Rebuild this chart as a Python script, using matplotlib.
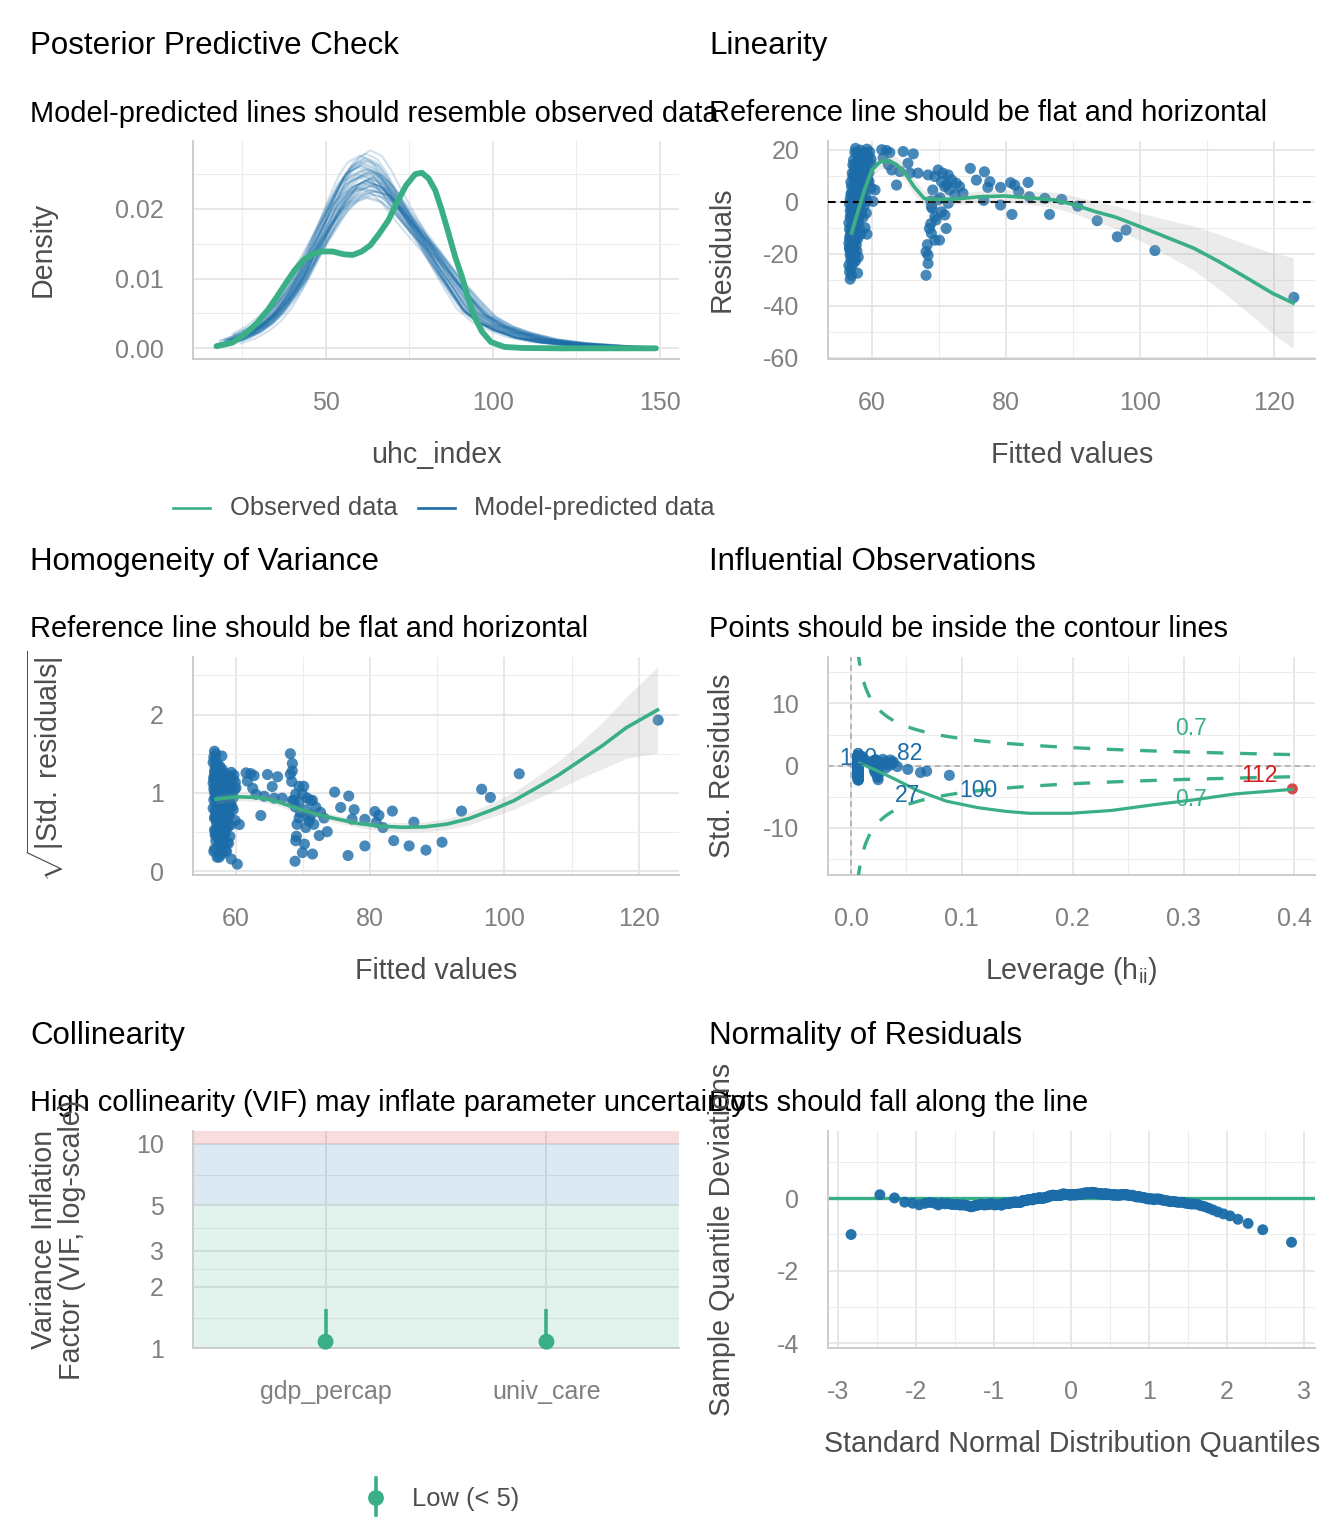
import numpy as np
import matplotlib
matplotlib.use("Agg")
import matplotlib.pyplot as plt
from matplotlib.ticker import FixedLocator, NullFormatter
from statistics import NormalDist

plt.rcParams['font.family'] = ['Liberation Sans', 'DejaVu Sans']
plt.rcParams['mathtext.fontset'] = 'custom'
plt.rcParams['mathtext.rm'] = 'Liberation Sans'
plt.rcParams['mathtext.it'] = 'Liberation Sans:italic'
plt.rcParams['mathtext.bf'] = 'Liberation Sans:bold'
plt.rcParams['mathtext.sf'] = 'Liberation Sans'
plt.rcParams['axes.unicode_minus'] = False
plt.rcParams['lines.scale_dashes'] = False

# ---------------- data ----------------
# posterior predictive check: observed density
obs_x = [17.2, 21.9, 25.9, 29.3, 32.6, 35.3, 37.9, 40.6, 43.3, 46.0, 48.6, 52.0, 55.3, 58.0,
         60.7, 63.3, 66.0, 68.7, 71.3, 74.0, 76.7, 78.7, 80.7, 82.7, 84.7, 86.7, 88.7, 90.7,
         92.7, 94.7, 96.7, 99.4, 103.4, 108.8, 120.0, 148.8]
obs_y = [0.0003, 0.0008, 0.0021, 0.0036, 0.0055, 0.0074, 0.0093, 0.0112, 0.0127, 0.0135,
         0.0139, 0.0139, 0.0135, 0.0134, 0.0139, 0.0148, 0.0165, 0.0184, 0.0210, 0.0234,
         0.0250, 0.0252, 0.0244, 0.0227, 0.0198, 0.0165, 0.0131, 0.0103, 0.0069, 0.0043,
         0.0024, 0.0009, 0.0002, 0.00005, 0.0, 0.0]
# model-predicted density (typical draw) and per-draw shift / height factor
pred_x = [17, 22, 27, 31, 34.7, 38.5, 42.2, 45, 47.4, 50, 52.7, 55, 58, 62, 66, 69, 72.2,
          76, 80, 83.5, 87, 91, 95, 100, 105, 112, 120, 130, 140, 149]
pred_y = [0.0006, 0.0012, 0.0022, 0.0034, 0.0050, 0.0073, 0.0100, 0.0127, 0.0150, 0.0175,
          0.0200, 0.0219, 0.0236, 0.0245, 0.0238, 0.0222, 0.0200, 0.0175, 0.0150, 0.0125,
          0.0100, 0.0074, 0.0050, 0.0034, 0.0024, 0.0014, 0.0008, 0.0004, 0.0002, 0.0001]
pred_peak = 62
pred_shift = [-2.5, 1.0, 0.3, -1.2, 2.2, -0.4, 1.6, -2.0, 0.8, -0.9, 2.8, -1.6, 0.1, 1.3, -2.8,
              0.6, -0.2, 1.9, -1.0, 2.5, -0.6, 0.4, -1.8, 1.1, -0.1, 2.0, -2.3, 0.9, -0.7, 1.5,
              -1.4, 0.2, 2.6, -0.3, 1.2, -2.1, 0.5, -1.1, 1.8, 0.0, -1.5, 2.3, -0.8, 0.7, 1.4]
pred_scale = [1.02, 0.93, 1.10, 0.97, 0.90, 1.05, 0.99, 1.13, 0.95, 1.01, 0.92, 1.07, 0.98, 1.16,
              0.94, 1.03, 0.89, 1.00, 1.08, 0.96, 1.11, 0.91, 1.04, 0.97, 1.14, 0.93, 1.06, 0.99,
              1.02, 0.95, 1.09, 0.88, 1.01, 1.12, 0.96, 1.00, 1.05, 0.94, 1.03, 0.98, 1.07, 0.92,
              1.10, 0.97, 1.04]

# fitted values / residuals: main cluster (univ_care = 0, low gdp)
fit_a = [57.6, 58.3, 59.3,
         57.3, 57.8, 58.1, 58.6, 59.0, 59.5, 59.9, 57.5, 58.9, 58.4, 59.7, 57.9,
         57.1, 57.4, 57.7, 58.0, 58.2, 58.5, 58.8, 59.1, 59.4, 59.8,
         57.2, 57.6, 57.9, 58.3, 58.7, 59.0, 59.6, 60.0, 57.5, 58.6,
         56.9, 57.2, 57.4, 57.7, 57.9, 58.1, 58.3, 58.5, 58.8, 59.0,
         59.2, 59.6, 59.9, 57.0, 57.6, 58.0, 58.4, 58.9, 59.4, 57.3,
         56.8, 57.0, 57.2, 57.4, 57.6, 57.8, 58.0, 58.2, 58.4, 58.6,
         58.8, 59.1, 59.3, 56.9, 57.5, 57.9, 58.3, 58.7, 60.2,
         56.7, 56.8, 56.9, 57.0, 57.1, 57.2, 57.3, 57.4, 57.5, 57.6,
         57.7, 57.8, 57.9, 58.0, 58.1, 58.2, 58.4, 58.5, 58.7, 58.9,
         59.2, 56.8, 57.0, 57.3, 57.6,
         56.6, 56.7, 56.8, 56.9, 57.0, 57.1, 57.2, 57.3, 57.4, 57.5,
         57.6, 57.7, 57.8, 57.9, 58.0, 58.2, 58.4, 59.0, 56.7, 56.9, 57.1, 57.4, 59.3,
         56.6, 56.7, 56.8, 56.9, 57.0, 57.1, 57.2, 57.3, 57.4, 57.5,
         57.6, 57.7, 57.8, 58.0, 56.7, 56.9, 57.2, 57.5,
         56.6, 56.7, 56.8, 56.9, 57.0, 57.2, 57.9]
res_a = [20.5, 19.8, 20.2,
         16.0, 18.5, 17.2, 15.8, 18.8, 17.5, 16.4, 19.0, 16.9, 18.0, 19.1, 15.6,
         11.0, 13.5, 12.2, 14.6, 10.8, 13.0, 11.7, 14.9, 12.5, 13.8,
         14.2, 10.5, 12.9, 15.2, 10.3, 12.0, 11.2, 14.4, 11.9, 14.0,
         7.5, 9.5, 6.0, 8.4, 5.5, 9.9, 7.2, 5.8, 8.9, 6.6,
         9.2, 7.8, 5.3, 5.9, 7.0, 8.0, 9.1, 6.2, 8.6, 10.0,
         1.0, 3.5, 0.4, 4.6, 2.2, 3.9, 1.5, 4.8, 2.9, 0.8,
         4.1, 2.5, 0.3, 2.7, 1.9, 0.6, 3.2, 1.7, 0.1,
         -0.8, -3.5, -6.2, -1.9, -4.8, -7.3, -2.6, -5.5, -0.4, -3.1,
         -6.8, -1.2, -4.2, -7.0, -2.2, -5.0, -0.9, -3.8, -6.0, -1.6,
         -4.4, -5.8, -2.9, -7.6, -1.5,
         -8.2, -10.5, -12.8, -14.9, -9.3, -11.6, -13.9, -8.8, -10.9, -13.2,
         -15.2, -9.8, -12.1, -14.3, -8.0, -10.2, -12.5, -10.0, -14.0, -11.2, -8.5, -14.6, -12.5,
         -16.0, -18.3, -20.6, -22.5, -17.1, -19.4, -21.7, -15.8, -18.0, -20.2,
         -22.8, -16.7, -19.0, -21.3, -17.5, -19.8, -16.4, -21.9,
         -24.5, -27.0, -29.8, -25.6, -28.4, -24.0, -27.5]
# univ_care = 0, moderate gdp
fit_b = [61.5, 62.2, 62.7, 64.7, 66.2, 62.5, 64.2, 65.4, 65.7, 66.9, 63.7, 60.5, 68.4, 61.7, 63.0]
res_b = [20.0, 19.7, 18.9, 19.3, 18.4, 14.2, 11.6, 14.8, 11.0, 11.0, 6.4, 4.5, 10.3, 16.8, 12.2]
# univ_care = 1 cluster
fit_c = [69.9, 70.6, 71.4, 71.9, 72.6, 73.1, 73.6, 70.9, 71.6, 69.1,
         68.8, 68.9, 69.4, 70.4, 70.9, 68.6, 68.9, 71.1, 69.4, 70.1,
         68.1, 68.4, 68.4, 68.1, 69.9, 71.4, 72.4, 70.4, 69.4, 69.0,
         69.6, 68.8, 70.2, 71.2, 68.3]
res_c = [12.2, 11.0, 10.3, 8.4, 7.1, 5.8, 3.2, 5.8, 4.5, 4.5,
         0.2, -1.9, -5.8, -3.9, -5.1, -10.3, -12.2, -10.3, -14.8, -14.8,
         -19.3, -20.6, -23.8, -28.3, 0.7, -0.6, 2.6, 7.7, 9.7, -2.5,
         -7.0, -8.5, 1.5, 6.5, -16.5]
# high fitted values (mixed groups)
fit_d = [74.7, 76.8, 75.6, 77.6, 77.3, 79.2, 76.7, 79.2, 80.7, 81.3, 80.9, 81.9,
         83.3, 83.5, 85.8, 86.5, 88.3, 90.7, 93.6, 96.6, 97.9, 102.2, 122.9]
res_d = [12.8, 11.5, 8.3, 7.7, 5.5, 5.5, 0.5, -1.3, 7.3, 6.4, -4.9, 3.9,
         7.4, 1.9, 1.3, -4.9, 0.9, -1.7, -7.3, -13.5, -10.9, -18.8, -36.8]
univ_d = [0, 0, 0, 0, 0, 1, 1, 1, 1, 1, 1, 1, 1, 1, 1, 1, 1, 1, 1, 1, 1, 1, 0]

# loess smooths
lin_x = [57.0, 58.0, 59.0, 60.0, 61.3, 62.6, 63.8, 65.0, 66.3, 67.8, 68.7, 72.4, 76.1, 79.8,
         83.5, 87.2, 90.3, 93.3, 96.4, 99.4, 102.5, 108.0, 111.7, 116.0, 119.7, 122.8]
lin_y = [-12.0, -3.2, 5.2, 12.2, 15.4, 15.8, 14.1, 10.9, 5.8, 1.3, 0.9, 1.0, 1.9, 2.2,
         1.5, 0.7, -1.3, -3.8, -6.0, -9.0, -12.2, -17.9, -23.0, -29.5, -35.2, -39.0]
lin_band = [3.0, 2.8, 2.6, 2.6, 2.8, 3.0, 3.0, 3.0, 3.0, 3.0, 2.8, 2.2, 2.2, 2.4,
            2.6, 3.0, 3.4, 3.8, 4.4, 5.2, 6.2, 8.5, 10.5, 13.0, 15.5, 17.5]
hom_x = [57.0, 60.1, 63.5, 66.1, 68.8, 71.4, 74.8, 78.1, 81.4, 84.8, 88.1, 91.4, 94.7,
         98.1, 101.4, 104.7, 108.1, 111.4, 114.7, 118.1, 122.8]
hom_y = [0.92, 0.95, 0.94, 0.89, 0.81, 0.74, 0.67, 0.61, 0.575, 0.56, 0.565, 0.60, 0.67,
         0.78, 0.90, 1.06, 1.23, 1.42, 1.61, 1.83, 2.06]
hom_band = [0.06, 0.05, 0.05, 0.05, 0.05, 0.05, 0.05, 0.05, 0.055, 0.06, 0.065, 0.07, 0.08,
            0.09, 0.11, 0.14, 0.18, 0.23, 0.30, 0.39, 0.55]
lev_sm_x = [0.0078, 0.0235, 0.040, 0.060, 0.086, 0.1145, 0.140, 0.161, 0.198, 0.235,
            0.272, 0.309, 0.346, 0.398]
lev_sm_y = [0.4, -0.8, -2.2, -4.0, -5.7, -6.75, -7.35, -7.65, -7.65, -7.2, -6.3, -5.5,
            -4.55, -3.8]
cook_level = 0.7
n_params = 3
label_ids = ["120", "82", "27", "100"]
outlier_id = "112"

# collinearity
vif_terms = ["gdp_percap", "univ_care"]
vif_vals = [1.077, 1.077]
vif_lo = [1.0, 1.0]
vif_hi = [1.55, 1.55]

# ---------------- derived statistics ----------------
fitted = np.array(fit_a + fit_b + fit_c + fit_d)
resid = np.array(res_a + res_b + res_c + res_d)
univ = np.array([0] * (len(fit_a) + len(fit_b)) + [1] * len(fit_c) + univ_d, dtype=float)
n = len(fitted)
X = np.column_stack([np.ones(n), fitted, univ])
lev = np.einsum('ij,jk,ik->i', X, np.linalg.inv(X.T @ X), X)
sigma = np.sqrt(np.sum(resid ** 2) / (n - n_params))
std_res = resid / (sigma * np.sqrt(1 - lev))
stud = std_res * np.sqrt((n - n_params - 1) / (n - n_params - std_res ** 2))
sqrt_abs = np.sqrt(np.abs(std_res))
nd = NormalDist()
theo = np.array([nd.inv_cdf((i - 0.5) / n) for i in range(1, n + 1)])
qq_dev = np.sort(stud) - theo

# ---------------- layout ----------------
W, H = 1344, 1536
GREEN, BLUE, RED = '#3aaf85', '#1b6ca8', '#cd201f'
TICK_C, LAB_C = '#808080', '#4d4d4d'
GRID_MAJ, GRID_MIN, AXIS_C = '#e4e4e4', '#ececec', '#cccccc'
PT = 64

fig = plt.figure(figsize=(W / 100, H / 100), dpi=100)
lay = fig.add_axes([0, 0, 1, 1])
lay.set_xlim(0, W)
lay.set_ylim(H, 0)
lay.axis('off')

P = {
    'ppc': (193, 141, 679, 358.7),
    'lin': (828.4, 140.7, 1315, 358.7),
    'hom': (193, 656.7, 679, 875),
    'inf': (828.4, 656.7, 1315, 875),
    'vif': (193, 1130.7, 679, 1348.3),
    'qq': (828.4, 1130.7, 1315, 1348.3),
}


def add_ax(key):
    l, t, r, b = P[key]
    return fig.add_axes([l / W, 1 - b / H, (r - l) / W, (b - t) / H])


def style(ax, xmaj, xlab, ymaj, ylab, xmin=(), ymin=()):
    ax.set_facecolor('none')
    for s in ('top', 'right'):
        ax.spines[s].set_visible(False)
    for s in ('left', 'bottom'):
        ax.spines[s].set_color(AXIS_C)
        ax.spines[s].set_linewidth(1.4)
    ax.set_xticks(xmaj)
    ax.set_xticklabels(xlab)
    ax.set_yticks(ymaj)
    ax.set_yticklabels(ylab)
    ax.xaxis.set_minor_locator(FixedLocator(list(xmin)))
    ax.yaxis.set_minor_locator(FixedLocator(list(ymin)))
    ax.xaxis.set_minor_formatter(NullFormatter())
    ax.yaxis.set_minor_formatter(NullFormatter())
    ax.tick_params(which='both', length=0)
    ax.tick_params(axis='x', which='major', pad=23, labelsize=18, labelcolor=TICK_C)
    ax.tick_params(axis='y', which='major', pad=21, labelsize=18, labelcolor=TICK_C)
    ax.grid(which='major', color=GRID_MAJ, lw=1.25)
    ax.grid(which='minor', color=GRID_MIN, lw=0.75)
    ax.set_axisbelow(True)


# ---- Posterior predictive check ----
ax1 = add_ax('ppc')
px = np.array(pred_x, dtype=float)
py = np.array(pred_y, dtype=float)
for sh, sc in zip(pred_shift, pred_scale):
    xs = pred_peak + sh + (px - pred_peak) / sc
    ys = py * sc
    m = (xs >= 17.2) & (xs <= 148.8)
    ax1.plot(xs[m], ys[m], color=BLUE, lw=1.45, alpha=0.2, zorder=2)
ax1.plot(obs_x, obs_y, color=GREEN, lw=4.2, solid_capstyle='round',
         solid_joinstyle='round', zorder=3)
style(ax1, [50, 100, 150], ['50', '100', '150'], [0, 0.01, 0.02], ['0.00', '0.01', '0.02'],
      xmin=[25, 75, 125], ymin=[0.005, 0.015, 0.025])
ax1.set_xlim(10.18, 155.7)
ax1.set_ylim(-0.00149, 0.02976)

# ---- Linearity ----
ax2 = add_ax('lin')
ax2.scatter(fitted, resid, s=PT, color=BLUE, alpha=0.8, edgecolors='none', zorder=2)
ax2.axhline(0, color='black', lw=1.5, dashes=(5.5, 3.5), zorder=2.6)
lx, ly, lb = np.array(lin_x), np.array(lin_y), np.array(lin_band)
ax2.fill_between(lx, ly - lb, ly + lb, color='#9e9e9e', alpha=0.2, lw=0, zorder=3)
ax2.plot(lx, ly, color=GREEN, lw=2.6, zorder=4)
style(ax2, [60, 80, 100, 120], ['60', '80', '100', '120'], [20, 0, -20, -40, -60],
      ['20', '0', '-20', '-40', '-60'], xmin=[70, 90, 110], ymin=[10, -10, -30, -50])
ax2.set_xlim(53.55, 126.05)
ax2.set_ylim(-60.4, 23.46)

# ---- Homogeneity ----
ax3 = add_ax('hom')
ax3.scatter(fitted, sqrt_abs, s=PT, color=BLUE, alpha=0.8, edgecolors='none', zorder=2)
hx, hy, hb = np.array(hom_x), np.array(hom_y), np.array(hom_band)
ax3.fill_between(hx, hy - hb, hy + hb, color='#9e9e9e', alpha=0.2, lw=0, zorder=3)
ax3.plot(hx, hy, color=GREEN, lw=2.6, zorder=4)
style(ax3, [60, 80, 100, 120], ['60', '80', '100', '120'], [0, 1, 2], ['0', '1', '2'],
      xmin=[70, 90, 110], ymin=[0.5, 1.5, 2.5])
ax3.set_xlim(53.6, 126.0)
ax3.set_ylim(-0.05, 2.74)

# ---- Influential observations ----
ax4 = add_ax('inf')
ax4.axhline(0, color='#a8a8a8', lw=1.1, dashes=(4, 3), zorder=1.5)
ax4.axvline(0, color='#a8a8a8', lw=1.1, dashes=(4, 3), zorder=1.5)
out = lev == lev.max()
ax4.scatter(lev[~out], std_res[~out], s=PT, color=BLUE, alpha=0.8, edgecolors='none', zorder=2)
ax4.scatter(lev[out], std_res[out], s=PT, color=RED, alpha=0.8, edgecolors='none', zorder=2)
hh = np.linspace(lev.min(), lev.max(), 300)
cb = np.sqrt(cook_level * n_params * (1 - hh) / hh)
ax4.plot(hh, cb, color=GREEN, lw=2.4, dashes=(12, 12), zorder=3)
ax4.plot(hh, -cb, color=GREEN, lw=2.4, dashes=(12, 12), zorder=3)
ax4.plot(lev_sm_x, lev_sm_y, color=GREEN, lw=2.3, zorder=4)
lab_pos = [(0.0065, 1.2), (0.053, 2.0), (0.0514, -4.8), (0.1145, -4.0)]
for t, (xx, yy) in zip(label_ids, lab_pos):
    ax4.text(xx, yy, t, color=BLUE, fontsize=16.5, ha='center', va='center', zorder=5)
ax4.text(0.3685, -1.65, outlier_id, color=RED, fontsize=16.5, ha='center', va='center', zorder=5)
ax4.text(0.307, 6.0, f"{cook_level:.1f}", color=GREEN, fontsize=16.5, ha='center', va='center')
ax4.text(0.307, -5.5, f"{cook_level:.1f}", color=GREEN, fontsize=16.5, ha='center', va='center')
style(ax4, [0, 0.1, 0.2, 0.3, 0.4], ['0.0', '0.1', '0.2', '0.3', '0.4'], [-10, 0, 10],
      ['-10', '0', '10'], xmin=[0.05, 0.15, 0.25, 0.35], ymin=[-15, -5, 5, 15])
ax4.set_xlim(-0.0204, 0.4186)
ax4.set_ylim(-17.57, 17.52)

# ---- Collinearity ----
ax5 = add_ax('vif')
ax5.set_yscale('log')
ax5.axhspan(1, 5, color=GREEN, alpha=0.15, lw=0, zorder=1)
ax5.axhspan(5, 10, color=BLUE, alpha=0.15, lw=0, zorder=1)
ax5.axhspan(10, 100, color=RED, alpha=0.15, lw=0, zorder=1)
xpos = np.arange(1, len(vif_terms) + 1)
ax5.vlines(xpos, vif_lo, vif_hi, color=GREEN, lw=2.6, zorder=3)
ax5.scatter(xpos, vif_vals, s=130, color=GREEN, edgecolors='none', zorder=4, clip_on=False)
style(ax5, list(xpos), vif_terms, [1, 2, 3, 5, 10], ['1', '2', '3', '5', '10'],
      xmin=[], ymin=[2 ** 0.5, 6 ** 0.5, 15 ** 0.5, 50 ** 0.5])
ax5.set_xlim(0.4, 2.6)
ax5.set_ylim(1.0, 11.6)

# ---- Normality ----
ax6 = add_ax('qq')
ax6.axhline(0, color=GREEN, lw=2.4, zorder=2)
ax6.scatter(theo, qq_dev, s=62, color=BLUE, alpha=0.95, edgecolors='none', zorder=3)
style(ax6, [-3, -2, -1, 0, 1, 2, 3], ['-3', '-2', '-1', '0', '1', '2', '3'], [-4, -2, 0],
      ['-4', '-2', '0'], xmin=[-2.5, -1.5, -0.5, 0.5, 1.5, 2.5], ymin=[-3, -1, 1])
ax6.set_xlim(-3.13, 3.14)
ax6.set_ylim(-4.14, 1.86)

# ---------------- texts ----------------
TS, SS, AS = 22.5, 20.9, 20.6
heads = [
    ('ppc', 30, "Posterior Predictive Check", "Model-predicted lines should resemble observed data"),
    ('lin', 709, "Linearity", "Reference line should be flat and horizontal"),
    ('hom', 30, "Homogeneity of Variance", "Reference line should be flat and horizontal"),
    ('inf', 709, "Influential Observations", "Points should be inside the contour lines"),
    ('vif', 30, "Collinearity", "High collinearity (VIF) may inflate parameter uncertainty"),
    ('qq', 709, "Normality of Residuals", "Dots should fall along the line"),
]
for key, x0, ttl, sub in heads:
    top = P[key][1]
    lay.text(x0, top - 87, ttl, fontsize=TS, color='black', va='baseline', ha='left')
    lay.text(x0, top - 19.5, sub, fontsize=SS, color='black', va='baseline', ha='left')

xlabels = [('ppc', "uhc_index"), ('lin', "Fitted values"), ('hom', "Fitted values"),
           ('inf', r"Leverage (h$_{\mathrm{ii}}$)"), ('qq', "Standard Normal Distribution Quantiles")]
for key, s in xlabels:
    l, t, r, b = P[key]
    lay.text((l + r) / 2, b + 104, s, fontsize=AS, color=LAB_C, ha='center', va='baseline')

ylabels = [('ppc', 43, "Density"), ('lin', 722, "Residuals"),
           ('hom', 45, r"$\sqrt{|\mathrm{Std.\ residuals}|}$"), ('inf', 722, "Std. Residuals"),
           ('qq', 722, "Sample Quantile Deviations")]
for key, x0, s in ylabels:
    l, t, r, b = P[key]
    lay.text(x0, (t + b) / 2, s, fontsize=AS, color=LAB_C, ha='center', va='center', rotation=90)
vt, vb = P['vif'][1], P['vif'][3]
lay.text(44, (vt + vb) / 2, "Variance Inflation", fontsize=AS, color=LAB_C, ha='center',
         va='center', rotation=90)
lay.text(72, (vt + vb) / 2, "Factor (VIF, log-scale)", fontsize=AS, color=LAB_C, ha='center',
         va='center', rotation=90)

# legends
LS = 18.4
lay.plot([173, 210], [508, 508], color=GREEN, lw=1.9)
lay.text(230, 508, "Observed data", fontsize=LS, color=LAB_C, va='center', ha='left')
lay.plot([418, 455], [508, 508], color=BLUE, lw=1.9)
lay.text(474, 508, "Model-predicted data", fontsize=LS, color=LAB_C, va='center', ha='left')
lay.plot([376, 376], [1478, 1515], color=GREEN, lw=2.6)
lay.scatter([376], [1498], s=130, color=GREEN, edgecolors='none')
lay.text(412, 1499, "Low (< 5)", fontsize=LS, color=LAB_C, va='center', ha='left')

fig.savefig("out.png", dpi=100)
